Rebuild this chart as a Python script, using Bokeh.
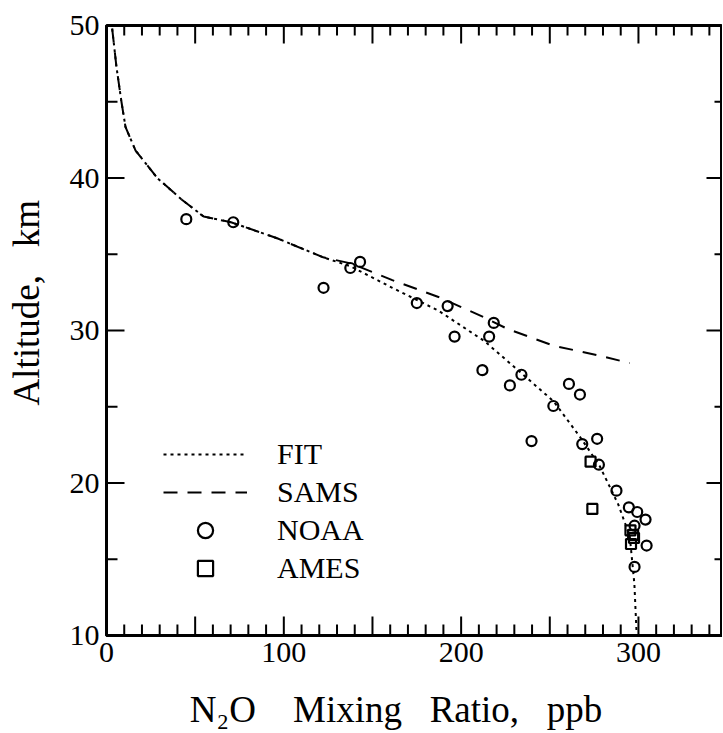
from math import pi
from bokeh.plotting import figure
from bokeh.models import Range1d, LinearAxis, FixedTicker, Legend, LegendItem
from bokeh.embed import file_html
from bokeh.resources import INLINE

# ---- data ----
fit_x = [3.2, 5.6, 8.3, 10.7, 16.4, 28.6, 42.7, 54.8, 70.2, 96.2, 122.2, 137.8,
         161.2, 187.2, 213.2, 234.0, 252.2, 267.8, 278.2, 288.6, 295.1, 297.7, 299.0]
fit_y = [49.8, 47.3, 45.1, 43.35, 41.8, 40.0, 38.56, 37.47, 37.1, 36.05, 34.8, 34.2,
         32.8, 31.3, 29.3, 27.2, 25.35, 22.9, 21.1, 18.6, 16.5, 13.4, 10.0]

sams_x = [3.2, 5.6, 8.3, 10.7, 16.4, 28.6, 42.7, 54.8, 70.2, 96.2, 122.2, 137.8,
          161.2, 187.2, 213.2, 226.2, 252.2, 278.2, 295.1]
sams_y = [49.8, 47.3, 45.1, 43.35, 41.8, 40.0, 38.56, 37.47, 37.1, 36.05, 34.8, 34.4,
          33.3, 32.2, 30.85, 30.1, 29.0, 28.35, 27.86]

noaa_x = [45.0, 71.5, 122.4, 143.0, 137.5, 175.0, 192.4, 196.3, 218.4, 215.8, 212.0,
          227.5, 234.0, 252.0, 239.7, 260.8, 267.0, 268.3, 276.7, 277.7, 287.6, 294.6,
          299.3, 304.0, 297.8, 304.6, 297.8]
noaa_y = [37.3, 37.1, 32.8, 34.5, 34.1, 31.8, 31.6, 29.6, 30.5, 29.6, 27.4,
          26.4, 27.1, 25.05, 22.75, 26.5, 25.8, 22.55, 22.9, 21.2, 19.5, 18.4,
          18.1, 17.6, 17.2, 15.9, 14.5]

ames_x = [273.0, 274.0, 295.5, 297.5, 295.8, 297.0]
ames_y = [21.4, 18.3, 16.9, 16.4, 16.0, 16.6]

x_lo, x_hi = 0, 347.4
y_lo, y_hi = 10, 50
x_major = [0, 50, 100, 150, 200, 250, 300]
x_minor = [v for v in range(0, 350, 10) if v not in x_major and v < x_hi]
x_labels = {50: "", 150: "", 250: ""}
y_major = [10, 20, 30, 40, 50]
y_minor = [15, 25, 35, 45]
yr_major = [20, 30, 40]

FONT = "Liberation Serif"
NB = "\u00a0"

p = figure(width=722, height=732, output_backend="svg", toolbar_location=None,
           x_range=Range1d(x_lo, x_hi), y_range=Range1d(y_lo, y_hi),
           x_axis_location=None, y_axis_location=None,
           min_border_left=106, min_border_right=0, min_border_top=25,
           min_border_bottom=95)
p.outline_line_color = "black"
p.outline_line_width = 3
p.xgrid.visible = False
p.ygrid.visible = False
p.background_fill_color = "white"
p.border_fill_color = "white"

def style(ax):
    ax.axis_line_width = 3
    ax.axis_line_color = "black"
    ax.major_tick_in = 0
    ax.major_tick_out = 0
    ax.minor_tick_in = 0
    ax.minor_tick_out = 0
    ax.major_tick_line_color = None
    ax.minor_tick_line_color = None
    ax.major_label_text_font = FONT
    ax.major_label_text_font_size = "30px"
    ax.major_label_text_color = "black"
    ax.major_label_standoff = 7
    ax.axis_label_text_font = FONT
    ax.axis_label_text_font_size = "37px"
    ax.axis_label_text_font_style = "normal"
    ax.axis_label_text_color = "black"

xb = LinearAxis(ticker=FixedTicker(ticks=x_major), major_label_overrides=x_labels)
style(xb)
xb.axis_label = "N\u2082O" + NB * 4 + "Mixing" + NB * 3 + "Ratio," + NB * 3 + "ppb" + NB * 4
xb.axis_label_standoff = 24
p.add_layout(xb, "below")

yl = LinearAxis(ticker=FixedTicker(ticks=y_major))
style(yl)
yl.axis_label = NB * 6 + "Altitude," + NB * 3 + "km"
yl.axis_label_standoff = 20
p.add_layout(yl, "left")

# inward tick marks, drawn from the tick arrays
tk = dict(line_color="black", line_width=2, length_units="screen")
p.ray(x=x_major, y=[y_lo] * len(x_major), length=19, angle=pi / 2, **tk)
p.ray(x=x_minor, y=[y_lo] * len(x_minor), length=11, angle=pi / 2, **tk)
p.ray(x=x_major, y=[y_hi] * len(x_major), length=18, angle=-pi / 2, **tk)
p.ray(x=x_minor, y=[y_hi] * len(x_minor), length=10, angle=-pi / 2, **tk)
p.ray(x=[x_lo] * len(y_major), y=y_major, length=18, angle=0, **tk)
p.ray(x=[x_lo] * len(y_minor), y=y_minor, length=11, angle=0, **tk)
p.ray(x=[x_hi] * len(yr_major), y=yr_major, length=16, angle=pi, **tk)
p.ray(x=[x_hi] * len(y_minor), y=y_minor, length=8, angle=pi, **tk)

fit_r = p.line(fit_x, fit_y, line_color="black", line_width=2, line_dash="3 4")
sams_r = p.line(sams_x, sams_y, line_color="black", line_width=2, line_dash="14 10")
noaa_r = p.scatter(noaa_x, noaa_y, marker="circle", size=10, line_color="black",
                   line_width=2.2, fill_color=None)
ames_r = p.scatter(ames_x, ames_y, marker="square", size=10, line_color="black",
                   line_width=2.2, fill_color=None)

legend = Legend(items=[LegendItem(label="FIT", renderers=[fit_r]),
                       LegendItem(label="SAMS", renderers=[sams_r]),
                       LegendItem(label="NOAA", renderers=[noaa_r]),
                       LegendItem(label="AMES", renderers=[ames_r])],
                location=(57, 48), orientation="vertical",
                glyph_width=84, glyph_height=38, label_height=38, spacing=0,
                padding=0, margin=0, label_standoff=30,
                label_text_font=FONT, label_text_font_size="30px",
                label_text_color="black",
                border_line_color=None, background_fill_alpha=0)
p.add_layout(legend)

open("out.html", "w").write(file_html(p, INLINE))
